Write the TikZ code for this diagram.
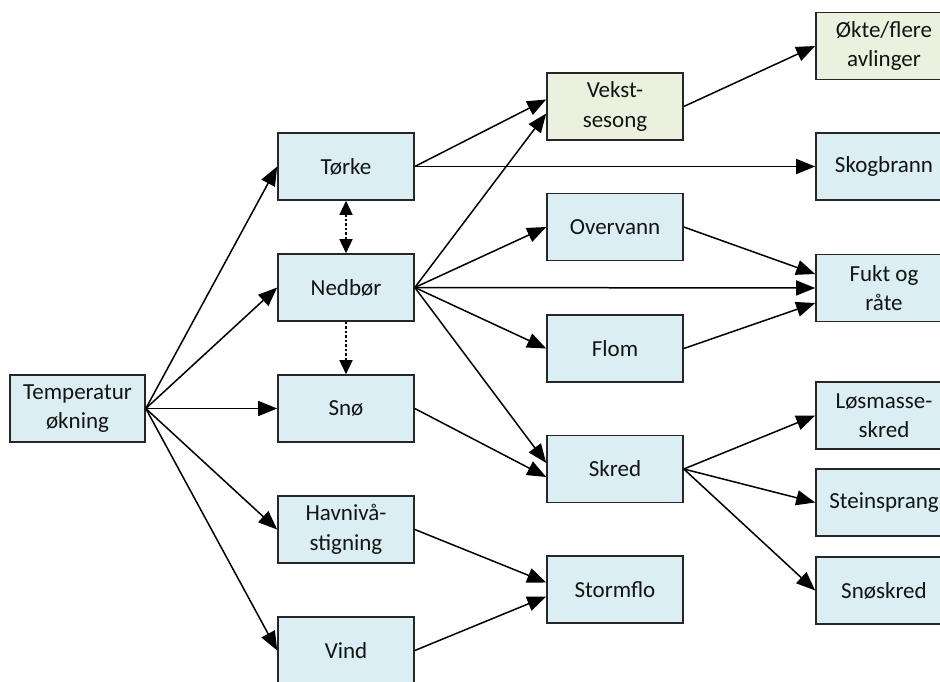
\documentclass[tikz,border=0pt]{standalone}
\usepackage{fontspec}
\setmainfont{Carlito}
\usetikzlibrary{arrows.meta}
\definecolor{lblue}{HTML}{DAEEF3}
\definecolor{lgreen}{HTML}{EBF1DE}
\definecolor{bord}{HTML}{262626}
\definecolor{txt}{HTML}{141414}
\begin{document}
\begin{tikzpicture}[x=1pt,y=-1pt,
  box/.style={draw=bord, line width=1.6pt, fill=lblue, minimum width=136pt, minimum height=67pt,
    inner sep=0pt, align=center, text=txt, font=\fontsize{23}{29.5}\selectfont},
  gbox/.style={box, fill=lgreen},
  conn/.style={line width=1.5pt, -{Triangle[length=19pt,width=15pt]}},
  dconn/.style={line width=1.5pt, dash pattern=on 2.5pt off 2pt, -{Triangle[length=14pt,width=13pt]}},
  dboth/.style={line width=1.5pt, dash pattern=on 2.5pt off 2pt, {Triangle[length=14pt,width=13pt]}-{Triangle[length=14pt,width=13pt]}}]
\useasboundingbox (0,0) rectangle (940,681);
\clip (0,0) rectangle (940,681);
\node[box, minimum width=135pt] (temp) at (77.5,408.5) {Temperatur\\økning};
\node[box] (torke) at (346,166.5) {Tørke};
\node[box] (nedbor) at (346,287.5) {Nedbør};
\node[box] (sno) at (346,408.5) {Snø};
\node[box] (havniva) at (346,529.5) {Havnivå-\\stigning};
\node[box] (vind) at (346,650.5) {Vind};
\node[gbox] (vekst) at (615,106.5) {Vekst-\\sesong};
\node[box] (overvann) at (615,227) {Overvann};
\node[box] (flom) at (615,348.5) {Flom};
\node[box] (skred) at (615,469) {Skred};
\node[box] (stormflo) at (615,589.5) {Stormflo};
\node[gbox] (okte) at (884,46) {Økte/flere\\avlinger};
\node[box] (skogbrann) at (884,166.5) {Skogbrann};
\node[box] (fukt) at (884,288) {Fukt og\\råte};
\node[box] (losmasse) at (884,415.5) {Løsmasse-\\skred};
\node[box] (stein) at (884,502.5) {Steinsprang};
\node[box] (snoskred) at (884,590.5) {Snøskred};
% connectors
\draw[conn] (temp.east) -- (torke.west);
\draw[conn] (temp.east) -- (nedbor.west);
\draw[conn] (temp.east) -- (sno.west);
\draw[conn] (temp.east) -- (havniva.west);
\draw[conn] (temp.east) -- (vind.west);
\draw[dboth] (torke.south) -- (nedbor.north);
\draw[dconn] (nedbor.south) -- (sno.north);
\draw[conn] (torke.east) -- ([yshift=7pt]vekst.west);
\draw[conn] (torke.east) -- (skogbrann.west);
\draw[conn] (nedbor.east) -- ([yshift=-7pt]vekst.west);
\draw[conn] (nedbor.east) -- (overvann.west);
\draw[conn] (nedbor.east) -- (fukt.west);
\draw[conn] (nedbor.east) -- (flom.west);
\draw[conn] (nedbor.east) -- ([yshift=6pt]skred.west);
\draw[conn] (sno.east) -- ([yshift=-8pt]skred.west);
\draw[conn] (havniva.east) -- ([yshift=7pt]stormflo.west);
\draw[conn] (vind.east) -- ([yshift=-7pt]stormflo.west);
\draw[conn] (vekst.east) -- (okte.west);
\draw[conn] (overvann.east) -- ([yshift=14pt]fukt.west);
\draw[conn] (flom.east) -- ([yshift=-15pt]fukt.west);
\draw[conn] (skred.east) -- (losmasse.west);
\draw[conn] (skred.east) -- (stein.west);
\draw[conn] (skred.east) -- (snoskred.west);
\end{tikzpicture}
\end{document}
